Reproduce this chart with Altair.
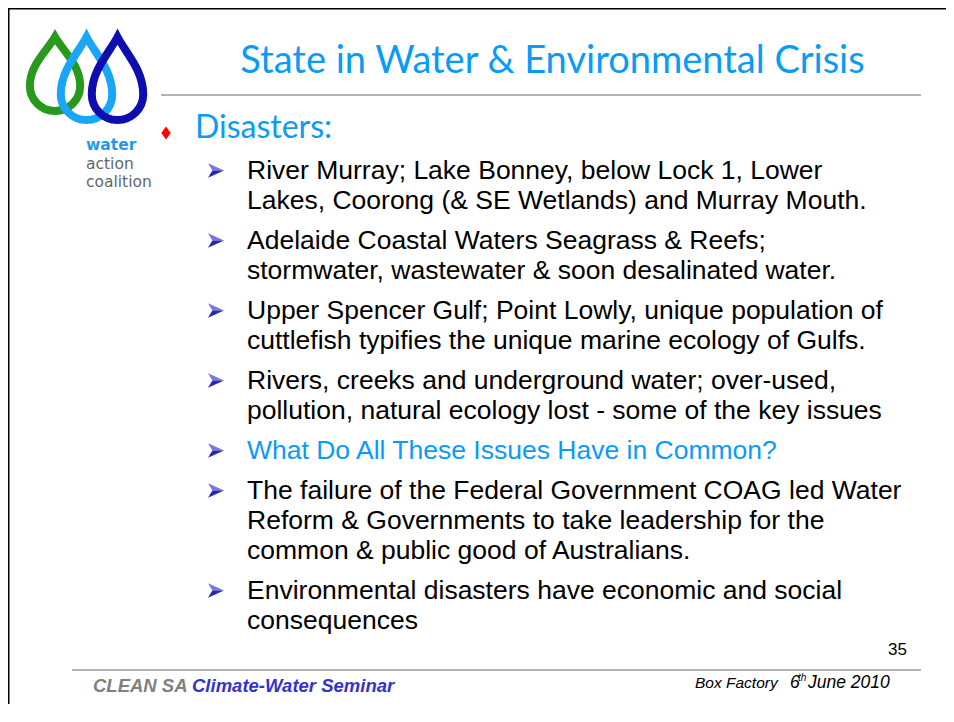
import altair as alt
import pandas as pd

# ---------------- content ----------------
TITLE = "State in Water & Environmental Crisis"
HEADING = "Disasters:"
BULLETS = [
    ["River Murray; Lake Bonney, below Lock 1, Lower",
     "Lakes, Coorong (& SE Wetlands) and Murray Mouth."],
    ["Adelaide Coastal Waters Seagrass & Reefs;",
     "stormwater, wastewater & soon desalinated water."],
    ["Upper Spencer Gulf; Point Lowly, unique population of",
     "cuttlefish typifies the unique marine ecology of Gulfs."],
    ["Rivers, creeks and underground water; over-used,",
     "pollution, natural ecology lost - some of the key issues"],
    ["What Do All These Issues Have in Common?"],
    ["The failure of the Federal Government COAG led Water",
     "Reform & Governments to take leadership for the",
     "common & public good of Australians."],
    ["Environmental disasters have economic and social",
     "consequences"],
]
HIGHLIGHT = [False, False, False, False, True, False, False]
LOGO_WORDS = ["water", "action", "coalition"]
FOOTER_LEFT = ["CLEAN SA", "Climate-Water Seminar"]
FOOTER_RIGHT = ["Box Factory", "6", "th", "June 2010"]
PAGE_NO = "35"

# ---------------- layout ----------------
W, H = 938, 696
XS = alt.Scale(domain=[8, 8 + W], range=[0, W])
YS = alt.Scale(domain=[8, 8 + H], range=[0, H])

BLUE = "#0A9BF7"
TXT_X = 247
ARROW_X = 216
FIRST_BASE = 179
LINE_STEP = 30
PARA_GAP = 40

body_rows, arrow_rows = [], []
y = FIRST_BASE
for i, para in enumerate(BULLETS):
    arrow_rows.append({"x": ARROW_X, "y": y - 8.5})
    for j, line in enumerate(para):
        body_rows.append({"x": TXT_X, "y": y, "t": line,
                          "c": BLUE if HIGHLIGHT[i] else "#000000"})
        y += LINE_STEP
    y += PARA_GAP - LINE_STEP
body_df = pd.DataFrame(body_rows)
arrow_df = pd.DataFrame(arrow_rows)


def enc_xy(ch):
    return ch.encode(
        x=alt.X("x:Q", scale=XS, axis=None),
        y=alt.Y("y:Q", scale=YS, axis=None),
    )


def text_layer(df, **kw):
    return alt.Chart(df).mark_text(**kw).encode(
        x=alt.X("x:Q", scale=XS, axis=None),
        y=alt.Y("y:Q", scale=YS, axis=None),
        text="t:N",
        color=alt.Color("c:N", scale=None),
    )


# rules: frame, title underline, footer line
rules_df = pd.DataFrame([
    {"x": 8, "x2": 946, "y": 8.75, "y2": 8.75, "c": "#000000", "w": 1.5},
    {"x": 8.75, "x2": 8.75, "y": 8, "y2": 704, "c": "#000000", "w": 1.5},
    {"x": 161, "x2": 921, "y": 95, "y2": 95, "c": "#9a9a9a", "w": 1.5},
    {"x": 72, "x2": 921, "y": 670, "y2": 670, "c": "#9a9a9a", "w": 1.5},
])
rules = alt.Chart(rules_df).mark_rule().encode(
    x=alt.X("x:Q", scale=XS, axis=None),
    x2="x2:Q",
    y=alt.Y("y:Q", scale=YS, axis=None),
    y2="y2:Q",
    color=alt.Color("c:N", scale=None),
    strokeWidth=alt.StrokeWidth("w:Q", scale=None),
)

# logo drops (teardrop outlines)
DROP_G = ("M0,-1 C0.2,-0.65 0.68,-0.25 0.68,0.32 "
          "A0.68,0.68 0 1 1 -0.68,0.32 C-0.68,-0.25 -0.2,-0.65 0,-1 Z")
DROP_B = ("M0,-1 C0.2,-0.62 0.62,-0.2 0.62,0.38 "
          "A0.62,0.62 0 1 1 -0.62,0.38 C-0.62,-0.2 -0.2,-0.62 0,-1 Z")
drops_df = pd.DataFrame([
    {"x": 55, "y": 74, "s": DROP_G, "z": 74 ** 2, "c": "#279A1C"},
    {"x": 86.5, "y": 78.5, "s": DROP_B, "z": 83 ** 2, "c": "#1AA6F7"},
    {"x": 117.5, "y": 78.5, "s": DROP_B, "z": 83 ** 2, "c": "#0E0EB0"},
])
drops = alt.Chart(drops_df).mark_point(filled=False, strokeWidth=8, opacity=1).encode(
    x=alt.X("x:Q", scale=XS, axis=None),
    y=alt.Y("y:Q", scale=YS, axis=None),
    shape=alt.Shape("s:N", scale=None),
    size=alt.Size("z:Q", scale=None),
    color=alt.Color("c:N", scale=None),
)

logo_df = pd.DataFrame([
    {"x": 86, "y": 150, "t": LOGO_WORDS[0], "c": "#1E9BE8"},
])
logo2_df = pd.DataFrame([
    {"x": 86, "y": 168.5, "t": LOGO_WORDS[1], "c": "#5E6A6A"},
    {"x": 86, "y": 187, "t": LOGO_WORDS[2], "c": "#5E6A6A"},
])
logo_t1 = text_layer(logo_df, font="DejaVu Sans", fontSize=15.5, fontWeight="bold",
                     align="left", baseline="alphabetic")
logo_t2 = text_layer(logo2_df, font="DejaVu Sans", fontSize=15.5,
                     align="left", baseline="alphabetic")

# arrows (two-tone arrowheads)
ARROW_TOP = "M-1,-0.9 L1,0 L-0.45,0 Z"
ARROW_BOT = "M-1,0.9 L1,0 L-0.45,0 Z"
arrow_top = enc_xy(alt.Chart(arrow_df).mark_point(
    shape=ARROW_TOP, size=256, filled=True, opacity=1, color="#7777DD"))
arrow_bot = enc_xy(alt.Chart(arrow_df).mark_point(
    shape=ARROW_BOT, size=256, filled=True, opacity=1, color="#2626B8"))

# red diamond bullet
diamond = enc_xy(alt.Chart(pd.DataFrame([{"x": 166, "y": 133}])).mark_point(
    shape="M0,-1 L0.72,0 L0,1 L-0.72,0 Z", size=169, filled=True, opacity=1,
    color="#FF0000"))

title = text_layer(pd.DataFrame([{"x": 552.5, "y": 73, "t": TITLE, "c": BLUE}]),
                   font="Lato", fontSize=38, align="center", baseline="alphabetic")
heading = text_layer(pd.DataFrame([{"x": 195, "y": 138, "t": HEADING, "c": BLUE}]),
                     font="Lato", fontSize=32, align="left", baseline="alphabetic")
body = text_layer(body_df, font="Liberation Sans", fontSize=26.5,
                  align="left", baseline="alphabetic")

page_no = text_layer(pd.DataFrame([{"x": 907, "y": 655, "t": PAGE_NO, "c": "#000000"}]),
                     font="Liberation Sans", fontSize=17, align="right",
                     baseline="alphabetic")

foot_l = text_layer(pd.DataFrame([
    {"x": 93, "y": 692, "t": FOOTER_LEFT[0], "c": "#808080"},
    {"x": 192, "y": 692, "t": FOOTER_LEFT[1], "c": "#3333CC"},
]), font="Liberation Sans", fontSize=18.5, fontWeight="bold", fontStyle="italic",
    align="left", baseline="alphabetic")

foot_r1 = text_layer(pd.DataFrame([
    {"x": 695, "y": 688, "t": FOOTER_RIGHT[0], "c": "#000000"},
]), font="Liberation Sans", fontSize=15.5, fontStyle="italic",
    align="left", baseline="alphabetic")
foot_r2 = text_layer(pd.DataFrame([
    {"x": 790, "y": 688, "t": FOOTER_RIGHT[1], "c": "#000000"},
    {"x": 808, "y": 688, "t": FOOTER_RIGHT[3], "c": "#000000"},
]), font="Liberation Sans", fontSize=17.5, fontStyle="italic",
    align="left", baseline="alphabetic")
foot_sup = text_layer(pd.DataFrame([
    {"x": 798, "y": 681, "t": FOOTER_RIGHT[2], "c": "#000000"},
]), font="Liberation Sans", fontSize=10, fontStyle="italic",
    align="left", baseline="alphabetic")

chart = alt.layer(
    rules, drops, logo_t1, logo_t2, arrow_top, arrow_bot, diamond,
    title, heading, body, page_no, foot_l, foot_r1, foot_r2, foot_sup,
).properties(
    width=W, height=H, padding=0, autosize=alt.AutoSizeParams(type="none"),
    background="#FFFFFF",
).configure_view(stroke=None)

chart.save("out.html", embed_options={"renderer": "svg", "actions": False})
